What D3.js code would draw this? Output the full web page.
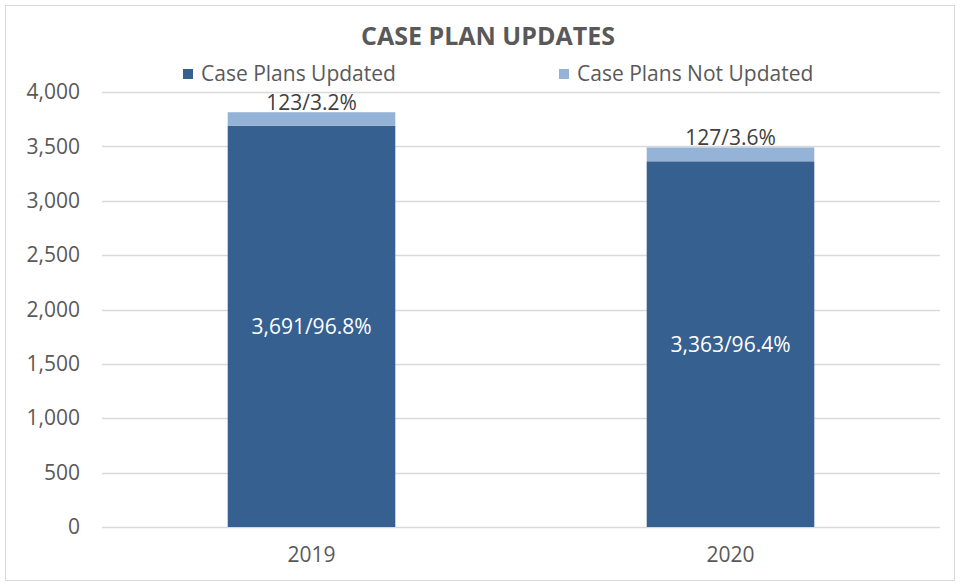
<!DOCTYPE html>
<html>
<head>
<meta charset="utf-8">
<script src="https://cdn.jsdelivr.net/npm/d3@7"></script>
<style>
  body { margin: 0; background: #fff; }
  text { font-family: 'Open Sans', 'Noto Sans', sans-serif; }
</style>
</head>
<body>
<div id="chart"></div>
<script>
// data
const years = ['2019', '2020']
const updated = [3691, 3363]
const notUpdated = [123, 127]
const updatedLabels = ['3,691/96.8%', '3,363/96.4%']
const notUpdatedLabels = ['123/3.2%', '127/3.6%']
const seriesNames = ['Case Plans Updated', 'Case Plans Not Updated']
const yTicks = [0, 500, 1000, 1500, 2000, 2500, 3000, 3500, 4000]

const W = 961
const H = 586
const plot = { left: 102, right: 940, top: 92, bottom: 527 }
const colors = ['#36608F', '#95B3D7']
const grey = '#595959'
const fs = 21

const svg = d3
  .select('#chart')
  .append('svg')
  .attr('width', W)
  .attr('height', H)

// chart border
svg
  .append('rect')
  .attr('x', 5.5)
  .attr('y', 5.5)
  .attr('width', 949)
  .attr('height', 575)
  .attr('fill', '#fff')
  .attr('stroke', '#d9d9d9')

const x = d3
  .scaleBand()
  .domain(years)
  .range([plot.left, plot.right])

const y = d3
  .scaleLinear()
  .domain([0, 4000])
  .range([plot.bottom, plot.top])

// gridlines
svg
  .append('g')
  .selectAll('line')
  .data(yTicks)
  .enter()
  .append('line')
  .attr('x1', plot.left)
  .attr('x2', plot.right)
  .attr('y1', d => Math.round(y(d)) + 0.5)
  .attr('y2', d => Math.round(y(d)) + 0.5)
  .attr('stroke', '#d9d9d9')
  .attr('stroke-width', 1.5)

// y axis labels
const yAxis = svg
  .append('g')
  .attr('transform', `translate(${plot.left - 10},0)`)
  .call(d3.axisLeft(y).tickValues(yTicks).tickFormat(d3.format(',')).tickSize(0).tickPadding(12))
yAxis.select('.domain').remove()
yAxis
  .selectAll('text')
  .attr('fill', grey)
  .attr('font-size', fs)
  .style('font-family', "'Open Sans', sans-serif")

// x axis labels
const xAxis = svg
  .append('g')
  .attr('transform', `translate(0,${plot.bottom})`)
  .call(d3.axisBottom(x).tickSize(0).tickPadding(20))
xAxis.select('.domain').remove()
xAxis
  .selectAll('text')
  .attr('fill', grey)
  .attr('font-size', fs)
  .style('font-family', "'Open Sans', sans-serif")

// stacked bars
const rows = years.map((yr, i) => ({ year: yr, updated: updated[i], notUpdated: notUpdated[i] }))
const stacked = d3.stack().keys(['updated', 'notUpdated'])(rows)
const barW = x.bandwidth() * 0.4
const barX = yr => x(yr) + (x.bandwidth() - barW) / 2

svg
  .append('g')
  .selectAll('g')
  .data(stacked)
  .enter()
  .append('g')
  .attr('fill', (d, i) => colors[i])
  .selectAll('rect')
  .data(d => d)
  .enter()
  .append('rect')
  .attr('x', d => barX(d.data.year))
  .attr('width', barW)
  .attr('y', d => y(d[1]))
  .attr('height', d => y(d[0]) - y(d[1]))

// labels inside the dark part
svg
  .append('g')
  .selectAll('text')
  .data(rows)
  .enter()
  .append('text')
  .attr('x', d => x(d.year) + x.bandwidth() / 2)
  .attr('y', d => y(d.updated / 2) + 8)
  .attr('text-anchor', 'middle')
  .attr('fill', '#fff')
  .attr('font-size', fs)
  .text((d, i) => updatedLabels[i])

// labels above the bars
svg
  .append('g')
  .selectAll('text')
  .data(rows)
  .enter()
  .append('text')
  .attr('x', d => x(d.year) + x.bandwidth() / 2)
  .attr('y', d => y(d.updated + d.notUpdated) - 2)
  .attr('text-anchor', 'middle')
  .attr('fill', '#404040')
  .attr('font-size', fs)
  .text((d, i) => notUpdatedLabels[i])

// title
svg
  .append('text')
  .attr('x', 488)
  .attr('y', 45)
  .attr('text-anchor', 'middle')
  .attr('fill', grey)
  .attr('font-size', 25)
  .attr('font-weight', 'bold')
  .text('CASE PLAN UPDATES')

// legend
const legendX = [183, 559]
const legend = svg
  .append('g')
  .selectAll('g')
  .data(seriesNames)
  .enter()
  .append('g')
  .attr('transform', (d, i) => `translate(${legendX[i]},69)`)
legend
  .append('rect')
  .attr('width', 10)
  .attr('height', 10)
  .attr('fill', (d, i) => colors[i])
legend
  .append('text')
  .attr('x', 18)
  .attr('y', 12)
  .attr('fill', grey)
  .attr('font-size', fs)
  .text(d => d)
</script>
</body>
</html>
